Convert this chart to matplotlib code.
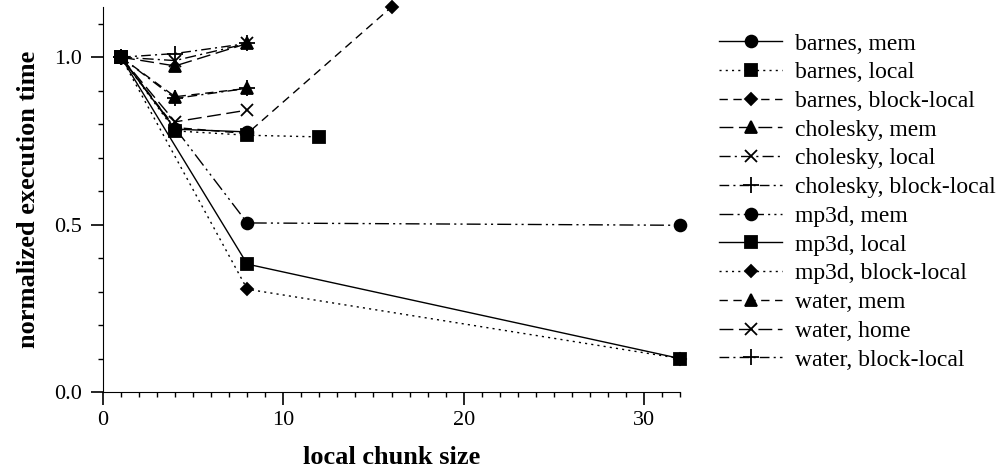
import numpy as np
import matplotlib.pyplot as plt
from matplotlib.ticker import MultipleLocator, FormatStrFormatter

plt.rcParams['font.family'] = ['Liberation Serif', 'DejaVu Serif']

# data
barnes_mem_x = [1, 4, 8]
barnes_mem = [1.0, 0.785, 0.777]
barnes_local_x = [1, 4, 8, 12]
barnes_local = [1.0, 0.78, 0.767, 0.762]
barnes_block_x = [1, 4, 8, 16]
barnes_block = [1.0, 0.79, 0.772, 1.15]

cholesky_x = [1, 4, 8]
cholesky_mem = [1.0, 0.974, 1.041]
cholesky_local = [1.0, 0.99, 1.041]
cholesky_block = [1.0, 1.011, 1.041]

mp3d_x = [1, 8, 32]
mp3d_mem = [1.0, 0.505, 0.498]
mp3d_local = [1.0, 0.382, 0.10]
mp3d_block = [1.0, 0.307, 0.10]

water_x = [1, 4, 8]
water_mem = [1.0, 0.882, 0.907]
water_home = [1.0, 0.807, 0.842]
water_block = [1.0, 0.877, 0.907]

series = [
    ('barnes, mem', barnes_mem_x, barnes_mem, '-', 'o', 8.5),
    ('barnes, local', barnes_local_x, barnes_local, (0, (1.5, 3)), 's', 8.5),
    ('barnes, block-local', barnes_block_x, barnes_block, (0, (6, 4)), 'D', 6.5),
    ('cholesky, mem', cholesky_x, cholesky_mem, (0, (10, 4)), '^', 9),
    ('cholesky, local', cholesky_x, cholesky_local, (0, (8, 3, 1.5, 3)), 'x', 9),
    ('cholesky, block-local', cholesky_x, cholesky_block, (0, (7, 3, 1.5, 3)), '+', 11),
    ('mp3d, mem', mp3d_x, mp3d_mem, (0, (10, 3, 1.5, 3, 1.5, 3)), 'o', 8.5),
    ('mp3d, local', mp3d_x, mp3d_local, '-', 's', 8.5),
    ('mp3d, block-local', mp3d_x, mp3d_block, (0, (1.5, 3)), 'D', 6.5),
    ('water, mem', water_x, water_mem, (0, (6, 4)), '^', 9),
    ('water, home', water_x, water_home, (0, (10, 4)), 'x', 9),
    ('water, block-local', water_x, water_block, (0, (7, 3, 1.5, 3)), '+', 11),
]

fig = plt.figure(figsize=(10.05, 4.70), dpi=100)
ax = fig.add_axes([103 / 1005, 78 / 470, 577 / 1005, 385 / 470])

for label, x, y, ls, mk, ms in series:
    ax.plot(x, y, color='black', linestyle=ls, linewidth=1.0, marker=mk,
            markersize=ms, markeredgewidth=1.3, label=label, clip_on=False)

ax.set_xlim(0, 32)
ax.set_ylim(0, 1.15)
ax.spines['top'].set_visible(False)
ax.spines['right'].set_visible(False)
ax.xaxis.set_major_locator(MultipleLocator(10))
ax.xaxis.set_minor_locator(MultipleLocator(1))
ax.yaxis.set_major_locator(MultipleLocator(0.5))
ax.yaxis.set_minor_locator(MultipleLocator(0.1))
ax.yaxis.set_major_formatter(FormatStrFormatter('%.1f'))
ax.tick_params(which='major', length=9, width=1.2, labelsize=16)
ax.tick_params(which='minor', length=3.5, width=1.0)
ax.tick_params(axis='x', pad=5)
ax.tick_params(axis='y', pad=6)

ax.set_xlabel('local chunk size', fontsize=19, fontweight='bold', labelpad=11)
ax.set_ylabel('normalized execution time', fontsize=19, fontweight='bold', labelpad=10)

fig.legend(loc='upper left', bbox_to_anchor=(719 / 1005, 1 - 33 / 470),
           frameon=False, fontsize=17, handlelength=2.67, handletextpad=0.55,
           labelspacing=0.305, borderpad=0, borderaxespad=0)

fig.savefig('out.png', dpi=100)
